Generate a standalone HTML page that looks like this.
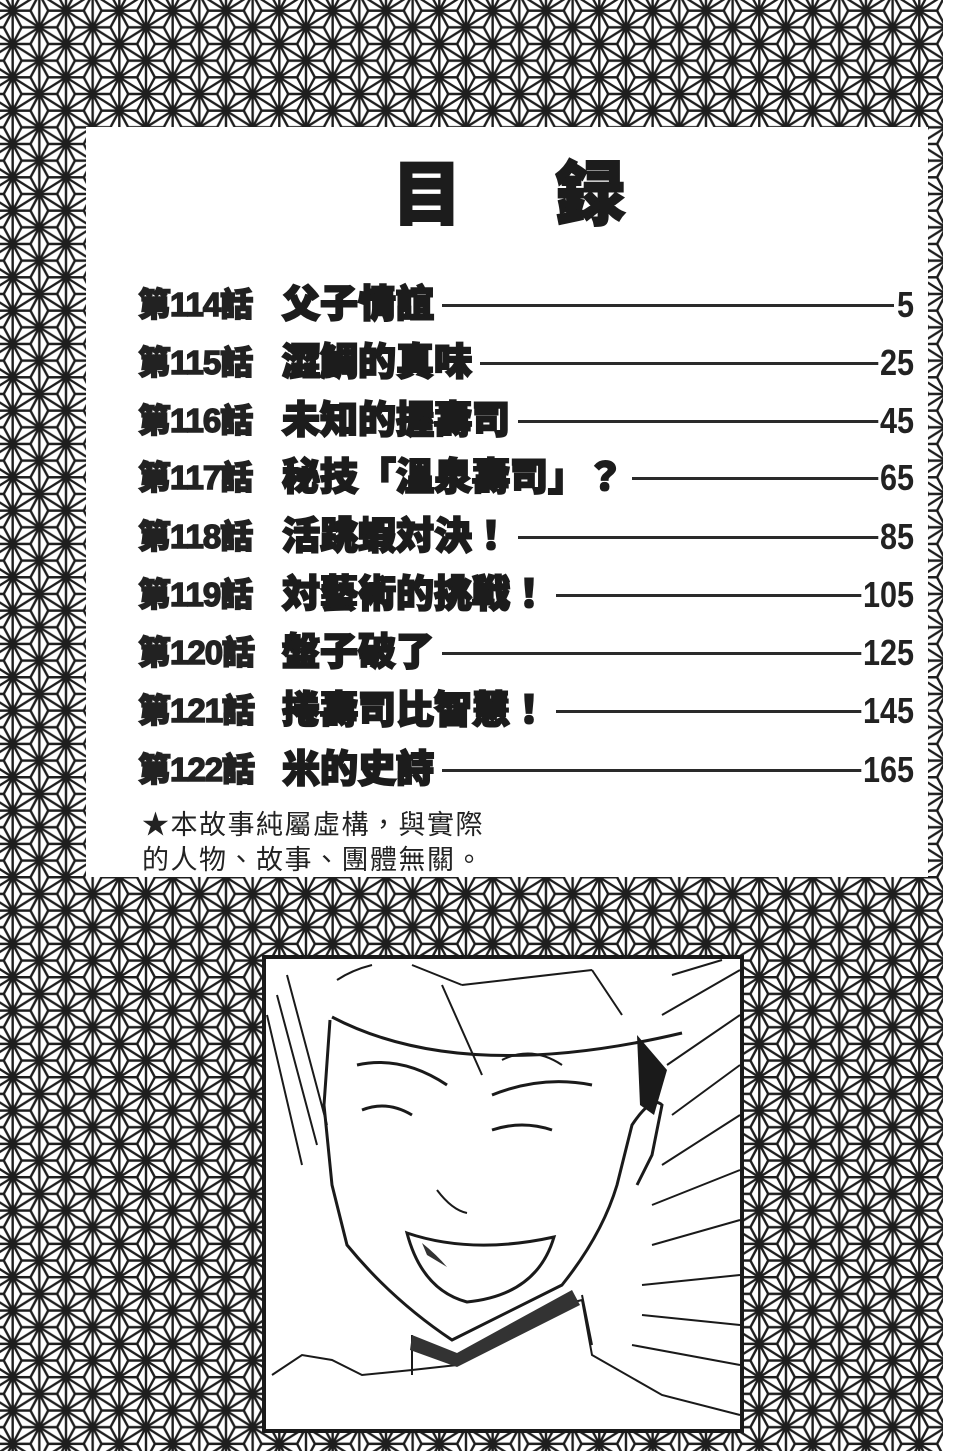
<!DOCTYPE html>
<html><head><meta charset="utf-8"><style>
html,body{margin:0;padding:0;background:#fff}
#pg{position:relative;width:960px;height:1451px;overflow:hidden;background:#fff}
svg.bg{position:absolute;left:0;top:0}
#panel{position:absolute;left:86px;top:127px;width:842px;height:750px;background:#fff}
.h{position:absolute;font-family:"Liberation Sans","Noto Sans CJK TC",sans-serif;font-weight:900;color:#1c1c1c;-webkit-text-stroke:2px #1c1c1c}
.row{position:absolute;left:138px;width:776px;height:40px}
.row .n{position:absolute;left:0;top:0;font-family:"Liberation Sans","Noto Sans CJK TC",sans-serif;font-weight:900;font-size:33px;line-height:40px;color:#222;-webkit-text-stroke:1.5px #222;letter-spacing:-1px}
.row .t{position:absolute;left:144px;top:-2px;font-family:"Liberation Sans","Noto Sans CJK TC",sans-serif;font-weight:900;font-size:38px;line-height:44px;color:#1c1c1c;-webkit-text-stroke:2px #1c1c1c;white-space:nowrap;background:#fff;padding-right:8px}
.row .p{position:absolute;right:0;top:0;font-family:"Liberation Sans Narrow","Liberation Sans",sans-serif;font-weight:bold;font-size:36px;line-height:40px;color:#222;background:#fff;padding-left:2px;transform:scaleX(.85);transform-origin:right}
.row .l{position:absolute;left:300px;right:20px;top:19px;height:3px;background:#2a2a2a}
.note{position:absolute;left:142px;font-family:"Liberation Sans","Noto Sans CJK TC",sans-serif;font-size:27px;color:#222;letter-spacing:1.5px}
</style></head><body><div id="pg">
<svg class="bg" width="960" height="1451">
<defs>
<pattern id="asa" x="-14" y="-6" width="53.33" height="33.33" patternUnits="userSpaceOnUse">
<g stroke="#1e1e1e" stroke-width="2.4" fill="none">
<line x1="0" y1="-5" x2="0" y2="40"/><line x1="26.67" y1="-5" x2="26.67" y2="40"/><line x1="53.33" y1="-5" x2="53.33" y2="40"/>
<path d="M0,0L26.67,16.67L53.33,0M0,33.33L26.67,16.67L53.33,33.33M0,0L26.67,-16.67L53.33,0M0,33.33L26.67,50L53.33,33.33"/>
<path d="M8.89,16.67L0,0M8.89,16.67L0,33.33M8.89,16.67L26.67,16.67"/>
<path d="M44.44,16.67L53.33,0M44.44,16.67L53.33,33.33M44.44,16.67L26.67,16.67"/>
<path d="M17.78,0L0,0M17.78,0L26.67,16.67M17.78,0L26.67,-16.67"/>
<path d="M35.56,0L53.33,0M35.56,0L26.67,16.67M35.56,0L26.67,-16.67"/>
<path d="M17.78,33.33L0,33.33M17.78,33.33L26.67,16.67M17.78,33.33L26.67,50"/>
<path d="M35.56,33.33L53.33,33.33M35.56,33.33L26.67,16.67M35.56,33.33L26.67,50"/>
</g>
<g fill="#1e1e1e"><circle cx="0" cy="0" r="4"/><circle cx="53.33" cy="0" r="4"/><circle cx="0" cy="33.33" r="4"/><circle cx="53.33" cy="33.33" r="4"/><circle cx="26.67" cy="16.67" r="4"/></g>
</pattern>
</defs>
<rect x="0" y="0" width="943" height="1451" fill="url(#asa)"/>
</svg>
<div id="panel"></div>
<div class="h" style="left:392px;top:150px;font-size:70px;line-height:90px">目</div>
<div class="h" style="left:555px;top:150px;font-size:70px;line-height:90px">録</div>

<div class="row" style="top:285px"><div class="l"></div><div class="n">第114話</div><div class="t">父子情誼</div><div class="p">5</div></div>
<div class="row" style="top:343px"><div class="l"></div><div class="n">第115話</div><div class="t">澀鯛的真味</div><div class="p">25</div></div>
<div class="row" style="top:401px"><div class="l"></div><div class="n">第116話</div><div class="t">未知的握壽司</div><div class="p">45</div></div>
<div class="row" style="top:458px"><div class="l"></div><div class="n">第117話</div><div class="t">秘技「溫泉壽司」？</div><div class="p">65</div></div>
<div class="row" style="top:517px"><div class="l"></div><div class="n">第118話</div><div class="t">活跳蝦対決！</div><div class="p">85</div></div>
<div class="row" style="top:575px"><div class="l"></div><div class="n">第119話</div><div class="t">対藝術的挑戦！</div><div class="p">105</div></div>
<div class="row" style="top:633px"><div class="l"></div><div class="n">第120話</div><div class="t">盤子破了</div><div class="p">125</div></div>
<div class="row" style="top:691px"><div class="l"></div><div class="n">第121話</div><div class="t">捲壽司比智慧！</div><div class="p">145</div></div>
<div class="row" style="top:750px"><div class="l"></div><div class="n">第122話</div><div class="t">米的史詩</div><div class="p">165</div></div>

<div class="note" style="top:803px">★本故事純屬虛構，與實際</div>
<div class="note" style="top:838px">的人物、故事、團體無關。</div>

<svg style="position:absolute;left:262px;top:955px" width="482" height="478" viewBox="0 0 482 478">
<rect x="2" y="2" width="478" height="474" fill="#fff" stroke="#1a1a1a" stroke-width="4"/>
<g stroke="#1a1a1a" stroke-width="2" fill="none">
<path d="M5,60L40,210M15,40L55,190M25,20L65,170M410,20L460,5M400,60L478,15M405,110L478,60M410,160L478,110M400,210L478,160M390,250L478,215M390,290L478,265M380,330L478,320M380,360L478,370M370,390L478,410"/>
<path d="M70,62Q200,130 420,78" stroke-width="3"/>
<path d="M75,25Q90,15 110,10M150,10L200,30M180,30L220,120M200,30L330,15M330,15L360,60M240,105Q270,90 300,110"/>
<path d="M68,65L62,150L70,230L85,290Q130,345 190,385L300,330Q340,280 355,230L370,170Q390,140 400,150L390,200L375,230" stroke-width="3"/>
<path d="M100,155Q125,145 150,160M230,175Q260,165 290,175M95,110Q140,100 185,130M230,140Q280,120 330,130" stroke-width="3"/>
<path d="M145,278Q210,300 292,282Q275,340 205,347Q160,335 145,278Z" stroke-width="3"/>
<path d="M175,235Q190,255 205,258"/>
<path d="M10,420L40,400L70,405L100,420L150,415L195,410L300,350L320,345L330,400L400,440L478,460M150,380L150,420M320,340L330,390"/>
</g>
<path d="M150,380L195,398L310,335L318,350L195,412L148,395Z" fill="#333"/>
<path d="M375,80L405,115L392,160L378,150Z" fill="#1a1a1a"/>
<path d="M160,288Q175,300 185,312L165,300Z" fill="#333"/>
</svg>
</div></body></html>
